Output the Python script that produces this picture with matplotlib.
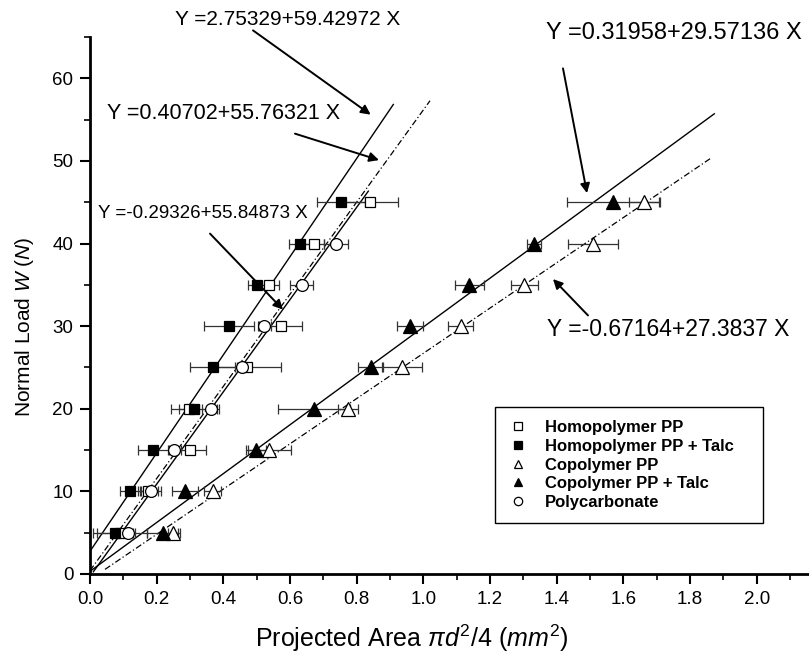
import matplotlib
matplotlib.use("Agg")
import matplotlib.pyplot as plt
from matplotlib.lines import Line2D
from matplotlib.ticker import MultipleLocator
import numpy as np

plt.rcParams['font.family'] = ['Liberation Sans', 'DejaVu Sans']
plt.rcParams['mathtext.fontset'] = 'custom'
plt.rcParams['mathtext.rm'] = 'Liberation Sans'
plt.rcParams['mathtext.it'] = 'Liberation Sans:italic'

# normal loads (N)
loads = [5, 10, 15, 20, 25, 30, 35, 40, 45]
pc_loads = [5, 10, 15, 20, 25, 30, 35, 40]

# projected areas (mm^2) and x error bars
homo_pp_x = [0.090, 0.175, 0.300, 0.298, 0.472, 0.572, 0.537, 0.672, 0.840]
homo_pp_err = [0.08, 0.03, 0.047, 0.03, 0.10, 0.065, 0.03, 0.03, 0.085]
homo_talc_x = [0.075, 0.120, 0.190, 0.312, 0.370, 0.417, 0.500, 0.630, 0.753]
homo_talc_err = [0.053, 0.03, 0.047, 0.07, 0.07, 0.075, 0.026, 0.033, 0.073]
copo_pp_x = [0.250, 0.368, 0.538, 0.775, 0.935, 1.112, 1.303, 1.508, 1.663]
copo_pp_err = [0.015, 0.025, 0.065, 0.03, 0.06, 0.038, 0.04, 0.075, 0.047]
copo_talc_x = [0.220, 0.285, 0.498, 0.673, 0.842, 0.960, 1.138, 1.332, 1.568]
copo_talc_err = [0.05, 0.04, 0.03, 0.108, 0.037, 0.04, 0.044, 0.02, 0.138]
pc_x = [0.115, 0.182, 0.253, 0.362, 0.455, 0.523, 0.635, 0.737]
pc_err = [0.02, 0.03, 0.02, 0.025, 0.02, 0.02, 0.034, 0.036]

# linear fits: intercept, slope, x range
fit_intercepts = [2.75329, 0.40702, -0.29326, 0.31958, -0.67164]
fit_slopes = [59.42972, 55.76321, 55.84873, 29.57136, 27.3837]
fit_xmin = [0.0, 0.0, 0.01, 0.0, 0.045]
fit_xmax = [0.91, 1.02, 0.835, 1.873, 1.86]
fit_dashed = [False, True, False, False, True]

fig = plt.figure(figsize=(8.09, 6.58), dpi=100)
ax = fig.add_axes([90 / 809, 84 / 658, 719 / 809, 537 / 658])

# fit lines
for b, m, x0, x1, dashed in zip(fit_intercepts, fit_slopes, fit_xmin, fit_xmax, fit_dashed):
    xs = np.array([x0, x1])
    if dashed:
        ax.plot(xs, b + m * xs, color='black', lw=0.9, dashes=(5, 2, 1, 2), zorder=2)
    else:
        ax.plot(xs, b + m * xs, color='black', lw=1.0, zorder=2)

series = [
    (homo_pp_x, homo_pp_err, loads, 's', 'white', 7.5, 'Homopolymer PP'),
    (homo_talc_x, homo_talc_err, loads, 's', 'black', 7.5, 'Homopolymer PP + Talc'),
    (copo_pp_x, copo_pp_err, loads, '^', 'white', 9.5, 'Copolymer PP'),
    (copo_talc_x, copo_talc_err, loads, '^', 'black', 9.5, 'Copolymer PP + Talc'),
    (pc_x, pc_err, pc_loads, 'o', 'white', 8.5, 'Polycarbonate'),
]

handles = []
for xs, err, ys, mk, fc, ms, label in series:
    ax.errorbar(xs, ys, xerr=err, fmt='none', ecolor='#333333', elinewidth=0.9,
                capsize=3.5, capthick=0.9, zorder=3)
    ax.plot(xs, ys, linestyle='none', marker=mk, markersize=ms, markerfacecolor=fc,
            markeredgecolor='black', markeredgewidth=0.9, zorder=4)
    handles.append(Line2D([], [], linestyle='none', marker=mk, markersize=6,
                          markerfacecolor=fc, markeredgecolor='black',
                          markeredgewidth=0.9, label=label))

# equation labels with arrows
arrow = dict(arrowstyle='-|>', color='black', lw=1.4, mutation_scale=14,
             shrinkA=0, shrinkB=0)
ax.text(0.594, 67.1, 'Y =2.75329+59.42972 X', fontsize=15, ha='center', va='center',
        clip_on=False)
ax.annotate('', xy=(0.842, 55.6), xytext=(0.489, 65.8), arrowprops=arrow,
            annotation_clip=False)
ax.text(0.402, 55.7, 'Y =0.40702+55.76321 X', fontsize=15.5, ha='center', va='center')
ax.annotate('', xy=(0.867, 50.1), xytext=(0.615, 53.3), arrowprops=arrow)
ax.text(0.340, 43.6, 'Y =-0.29326+55.84873 X', fontsize=13.5, ha='center', va='center')
ax.annotate('', xy=(0.579, 32.0), xytext=(0.360, 41.2), arrowprops=arrow)
ax.text(1.752, 65.5, 'Y =0.31958+29.57136 X', fontsize=17, ha='center', va='center',
        clip_on=False)
ax.annotate('', xy=(1.491, 46.1), xytext=(1.419, 61.2), arrowprops=arrow,
            annotation_clip=False)
ax.text(1.734, 29.6, 'Y =-0.67164+27.3837 X', fontsize=16.5, ha='center', va='center')
ax.annotate('', xy=(1.389, 35.7), xytext=(1.494, 31.3), arrowprops=arrow)

ax.set_xlim(0, 2.157)
ax.set_ylim(0, 65)
ax.xaxis.set_minor_locator(MultipleLocator(0.1))
ax.yaxis.set_minor_locator(MultipleLocator(5))
ax.set_xticks(np.arange(0, 2.01, 0.2))
ax.set_xticklabels([f'{v:.1f}' for v in np.arange(0, 2.01, 0.2)])
ax.set_yticks(np.arange(0, 61, 10))

for side in ['top', 'right']:
    ax.spines[side].set_visible(False)
for side in ['left', 'bottom']:
    ax.spines[side].set_linewidth(2)
ax.tick_params(which='major', direction='out', length=7, width=1.5, labelsize=13.5, pad=5)
ax.tick_params(which='minor', direction='out', length=4, width=1.2)

ax.set_xlabel('Projected Area $\\pi d^2$/4 ($mm^2$)', fontsize=18)
ax.xaxis.set_label_coords(0.448, -0.09)
ax.set_ylabel('Normal Load $W$ ($N$)', fontsize=15)
ax.yaxis.set_label_coords(-0.075, 0.46)

leg = ax.legend(handles=handles, loc='upper left',
                bbox_to_anchor=(0.563, 0.065, 0.373, 0.246), mode='expand',
                frameon=True, fancybox=False, edgecolor='black', framealpha=1,
                prop={'size': 12, 'weight': 'bold'}, handlelength=1.2,
                handletextpad=1.0, labelspacing=0.22, borderpad=0.8,
                borderaxespad=0)
leg.get_frame().set_linewidth(1.0)

fig.savefig('out.png', dpi=100)
